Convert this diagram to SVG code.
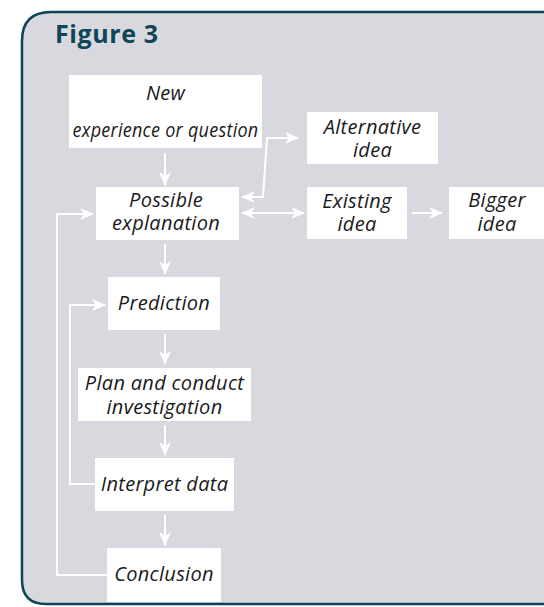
<svg xmlns="http://www.w3.org/2000/svg" width="544" height="607" viewBox="0 0 544 607">
<style>
.box{fill:#ffffff}
.t{font-family:"Open Sans","Noto Sans",sans-serif;font-style:italic;font-size:20px;letter-spacing:0.3px;fill:#1a1a1a;text-anchor:middle}
.c{fill:none;stroke:#ffffff;stroke-width:2}
</style>
<defs>
<marker id="ah" markerUnits="userSpaceOnUse" markerWidth="14" markerHeight="12" viewBox="0 0 14 12" refX="13" refY="6" orient="auto-start-reverse">
<path d="M0,0 L14,6 L0,12 L4,6 z" fill="#ffffff"/>
</marker>
</defs>
<rect width="544" height="607" fill="#ffffff"/>
<path d="M560,12 L51,12 Q22,12 22,41 L22,580 Q22,604 46,604 L560,604" fill="#d8d9de" stroke="#0e4457" stroke-width="2.5"/>
<text x="55" y="43" font-family="'Open Sans','Noto Sans',sans-serif" font-weight="bold" font-size="25" letter-spacing="0.6" fill="#0f4557">Figure 3</text>
<g id="connectors">
<path class="c" d="M165,153 L165,185" marker-end="url(#ah)"/>
<path class="c" d="M165,244 L165,274" marker-end="url(#ah)"/>
<path class="c" d="M165,334 L165,364" marker-end="url(#ah)"/>
<path class="c" d="M165,425 L165,455" marker-end="url(#ah)"/>
<path class="c" d="M165,515 L165,545" marker-end="url(#ah)"/>
<path class="c" d="M107,575 L57,575 L57,214 L93,214" marker-end="url(#ah)"/>
<path class="c" d="M95,484 L70,484 L70,305 L105,305" marker-end="url(#ah)"/>
<path class="c" d="M242,213 L304,213" marker-start="url(#ah)" marker-end="url(#ah)"/>
<path class="c" d="M242,197 L263,197 L267,138 L298,138" marker-start="url(#ah)" marker-end="url(#ah)"/>
<path class="c" d="M412,213 L442,213" marker-end="url(#ah)"/>
</g>
<g id="new-experience">
<rect class="box" x="69" y="75" width="193" height="73"/>
<text class="t" x="165.5" y="100">New</text>
<text class="t" x="165.5" y="137" textLength="186" lengthAdjust="spacingAndGlyphs">experience or question</text>
</g>
<g id="possible-explanation">
<rect class="box" x="96" y="187" width="143" height="53"/>
<text class="t" x="166" y="207">Possible</text>
<text class="t" x="166" y="230">explanation</text>
</g>
<g id="alternative-idea">
<rect class="box" x="307" y="112" width="131" height="52"/>
<text class="t" x="372.5" y="134">Alternative</text>
<text class="t" x="372.5" y="157">idea</text>
</g>
<g id="existing-idea">
<rect class="box" x="307" y="187" width="100" height="52"/>
<text class="t" x="357" y="208">Existing</text>
<text class="t" x="357" y="231">idea</text>
</g>
<g id="bigger-idea">
<rect class="box" x="449" y="187" width="95" height="52"/>
<text class="t" x="497" y="207">Bigger</text>
<text class="t" x="497" y="231">idea</text>
</g>
<g id="prediction">
<rect class="box" x="108" y="277" width="112" height="53"/>
<text class="t" x="164" y="310">Prediction</text>
</g>
<g id="plan-and-conduct">
<rect class="box" x="78" y="368" width="173" height="53"/>
<text class="t" x="164.5" y="390">Plan and conduct</text>
<text class="t" x="164.5" y="414">investigation</text>
</g>
<g id="interpret-data">
<rect class="box" x="95" y="458" width="139" height="53"/>
<text class="t" x="164.5" y="491">Interpret data</text>
</g>
<g id="conclusion">
<rect class="box" x="107" y="548" width="114" height="54"/>
<text class="t" x="164" y="581">Conclusion</text>
</g>
</svg>
